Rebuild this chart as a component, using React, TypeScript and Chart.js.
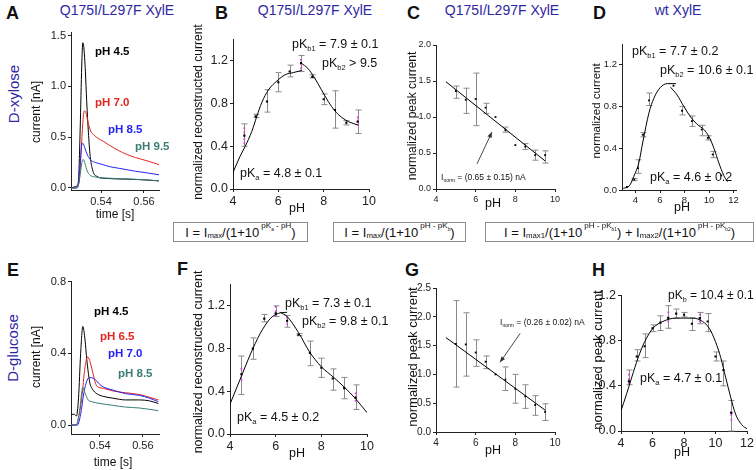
import React, { useEffect, useRef } from 'react';
import { Chart, registerables } from 'chart.js';
Chart.register(...registerables);

const FONT = '"Liberation Sans", Arial, Helvetica, sans-serif';
const RED = '#e3251f';
const BLUE = '#2424f0';
const TEAL = '#3a7d75';
const TITLE = '#2e26a3';
const MAG = '#e03ce0';
const ERR = '#8a8a8a';

// ---------- Panel A (D-xylose traces) ----------
const A_T_45 = [0.526, 0.5275, 0.5288, 0.5295, 0.5303, 0.531, 0.5315, 0.532, 0.5327, 0.5333, 0.5341, 0.5349, 0.5358, 0.5367, 0.538, 0.5395, 0.542, 0.546, 0.55, 0.555, 0.56, 0.567];
const A_V_45 = [0.0, 0.01, 0.02, 0.08, 0.6, 1.2, 1.43, 1.38, 1.15, 0.86, 0.55, 0.32, 0.2, 0.14, 0.115, 0.1, 0.095, 0.09, 0.088, 0.085, 0.08, 0.07];
const A_T_70 = [0.526, 0.528, 0.529, 0.53, 0.531, 0.5318, 0.5323, 0.533, 0.5338, 0.5352, 0.5368, 0.5385, 0.541, 0.544, 0.548, 0.552, 0.556, 0.561, 0.567];
const A_V_70 = [0.0, 0.005, 0.02, 0.1, 0.47, 0.72, 0.76, 0.74, 0.66, 0.56, 0.52, 0.49, 0.46, 0.42, 0.37, 0.33, 0.3, 0.27, 0.23];
const A_T_85 = [0.526, 0.5285, 0.5295, 0.5303, 0.531, 0.5315, 0.5322, 0.533, 0.534, 0.5355, 0.5375, 0.54, 0.544, 0.548, 0.552, 0.556, 0.561, 0.567];
const A_V_85 = [0.0, 0.0, 0.05, 0.25, 0.42, 0.44, 0.41, 0.36, 0.31, 0.27, 0.25, 0.235, 0.21, 0.195, 0.18, 0.165, 0.15, 0.13];
const A_T_95 = [0.526, 0.5285, 0.5295, 0.5305, 0.5313, 0.5318, 0.5325, 0.5335, 0.5349, 0.537, 0.54, 0.545, 0.55, 0.556, 0.561, 0.567];
const A_V_95 = [0.0, 0.0, 0.03, 0.17, 0.27, 0.28, 0.24, 0.17, 0.125, 0.11, 0.1, 0.095, 0.09, 0.085, 0.08, 0.07];
const A_X_TICKS = [0.54, 0.56];
const A_Y_TICKS = [0, 0.5, 1.0, 1.5];

// ---------- Panel B ----------
const B_PH = [4.5, 5.0, 5.5, 6.0, 6.5, 7.0, 7.5, 8.0, 8.5, 9.0, 9.5];
const B_MEAN = [0.5, 0.68, 0.82, 1.0, 1.1, 1.18, 1.05, 0.84, 0.74, 0.62, 0.63];
const B_LO = [0.4, 0.67, 0.72, 0.91, 1.05, 1.1, 1.04, 0.79, 0.57, 0.6, 0.52];
const B_HI = [0.61, 0.7, 0.93, 1.09, 1.16, 1.25, 1.07, 0.89, 0.92, 0.64, 0.74];
const B_MAG_PH = [4.5, 4.5, 4.5, 4.5, 7.0, 7.0, 7.0, 9.5, 9.5, 9.5];
const B_MAG_V = [0.43, 0.47, 0.53, 0.57, 1.13, 1.17, 1.21, 0.6, 0.64, 0.67];
const B_FIT1_PH = [4.0, 4.32, 4.54, 4.83, 5.05, 5.27, 5.57, 5.93, 6.3, 6.66, 7.03];
const B_FIT1_V = [0.155, 0.31, 0.4, 0.54, 0.68, 0.81, 0.93, 1.01, 1.07, 1.09, 1.11];
const B_FIT2_PH = [7.0, 7.3, 7.6, 7.9, 8.2, 8.5, 8.8, 9.1, 9.5];
const B_FIT2_V = [1.18, 1.13, 1.04, 0.93, 0.82, 0.73, 0.67, 0.63, 0.6];

// ---------- Panel C ----------
const C_PH = [5.0, 5.5, 6.0, 6.5, 7.0, 7.5, 8.0, 8.5, 9.0, 9.5];
const C_MEAN = [1.36, 1.24, 1.25, 1.13, 1.0, 0.82, 0.61, 0.59, 0.47, 0.47];
const C_LO = [1.26, 1.05, 0.88, 1.05, 1.0, 0.79, 0.61, 0.55, 0.4, 0.36];
const C_HI = [1.43, 1.4, 1.61, 1.19, 1.0, 0.86, 0.61, 0.63, 0.54, 0.53];
const C_FIT_PH = [4.5, 9.5];
const C_FIT_V = [1.49, 0.39];
const C_ARROW_PH = [6.07, 6.82];
const C_ARROW_V = [0.35, 0.79];

// ---------- Panel D ----------
const D_PH = [3.3, 3.9, 4.2, 4.6, 5.1, 7.1, 7.8, 8.6, 9.4, 9.9, 10.3, 11.0];
const D_MEAN = [0.03, 0.1, 0.21, 0.53, 0.86, 1.0, 0.76, 0.66, 0.58, 0.5, 0.34, 0.14];
const D_LO = [0.03, 0.09, 0.16, 0.51, 0.81, 1.0, 0.72, 0.61, 0.52, 0.48, 0.31, 0.14];
const D_HI = [0.03, 0.11, 0.29, 0.55, 0.93, 1.0, 0.8, 0.71, 0.62, 0.52, 0.37, 0.14];
const D_FIT1_PH = [3.0, 3.5, 3.86, 4.27, 4.6, 5.1, 5.5, 6.0, 6.6, 7.3];
const D_FIT1_V = [0.016, 0.04, 0.13, 0.26, 0.46, 0.74, 0.88, 0.98, 1.02, 1.02];
const D_FIT2_PH = [6.86, 7.4, 7.95, 8.5, 9.03, 9.58, 10.0, 10.4, 10.8, 11.2, 11.5];
const D_FIT2_V = [0.986, 0.91, 0.8, 0.7, 0.63, 0.58, 0.51, 0.4, 0.26, 0.14, 0.08];

// ---------- Panel E (D-glucose traces) ----------
const E_T_45 = [0.5265, 0.528, 0.529, 0.53, 0.531, 0.532, 0.5328, 0.534, 0.5352, 0.5365, 0.5385, 0.5415, 0.546, 0.552, 0.5585, 0.563, 0.5672];
const E_V_45 = [0.06, 0.06, 0.05, 0.15, 0.4, 0.55, 0.5, 0.35, 0.24, 0.2, 0.175, 0.16, 0.15, 0.14, 0.14, 0.135, 0.12];
const E_T_65 = [0.5265, 0.529, 0.53, 0.5315, 0.533, 0.5342, 0.5352, 0.5365, 0.538, 0.5395, 0.5415, 0.546, 0.552, 0.5585, 0.563, 0.5672];
const E_V_65 = [0.0, 0.0, 0.04, 0.15, 0.32, 0.38, 0.36, 0.3, 0.23, 0.21, 0.205, 0.19, 0.18, 0.17, 0.155, 0.14];
const E_T_70 = [0.5265, 0.5295, 0.531, 0.5325, 0.534, 0.5354, 0.537, 0.5385, 0.54, 0.542, 0.546, 0.552, 0.5585, 0.563, 0.5672];
const E_V_70 = [0.0, 0.0, 0.06, 0.18, 0.25, 0.265, 0.26, 0.245, 0.225, 0.21, 0.195, 0.175, 0.165, 0.15, 0.13];
const E_T_85 = [0.5265, 0.529, 0.5305, 0.532, 0.533, 0.5345, 0.5362, 0.54, 0.546, 0.552, 0.5585, 0.5672];
const E_V_85 = [0.0, 0.0, 0.08, 0.21, 0.18, 0.14, 0.13, 0.12, 0.11, 0.1, 0.095, 0.08];
const E_Y_TICKS = [0, 0.4, 0.8];

// ---------- Panel F ----------
const F_PH = [4.5, 5.0, 5.5, 6.0, 6.5, 7.0, 7.5, 8.0, 8.5, 9.0, 9.5];
const F_MEAN = [0.56, 0.8, 1.08, 1.13, 1.06, 0.93, 0.76, 0.62, 0.52, 0.43, 0.34];
const F_LO = [0.37, 0.7, 1.05, 1.1, 1.0, 0.92, 0.64, 0.53, 0.41, 0.33, 0.23];
const F_HI = [0.73, 0.9, 1.12, 1.2, 1.11, 0.94, 0.87, 0.71, 0.61, 0.53, 0.46];
const F_MAG_PH = [4.5, 4.5, 4.5, 6.0, 6.0, 6.0, 6.5, 6.5, 6.5, 9.5, 9.5, 9.5];
const F_MAG_V = [0.51, 0.56, 0.61, 1.11, 1.15, 1.19, 1.03, 1.06, 1.09, 0.31, 0.35, 0.38];
const F_FIT1_PH = [4.0, 4.44, 4.88, 5.32, 5.76, 6.12, 6.5];
const F_FIT1_V = [0.28, 0.51, 0.74, 0.94, 1.08, 1.13, 1.14];
const F_FIT2_PH = [6.2, 6.5, 7.0, 7.48, 8.0, 8.54, 9.0, 9.5, 10.0];
const F_FIT2_V = [1.14, 1.1, 0.95, 0.77, 0.63, 0.53, 0.44, 0.33, 0.2];

// ---------- Panel G ----------
const G_PH = [5.0, 5.5, 6.0, 6.5, 7.0, 7.5, 8.0, 8.5, 9.0, 9.5];
const G_MEAN = [1.53, 1.52, 1.38, 1.22, 1.0, 0.91, 0.75, 0.62, 0.47, 0.35];
const G_LO = [0.78, 0.97, 1.14, 1.1, 1.0, 0.72, 0.5, 0.41, 0.29, 0.2];
const G_HI = [2.28, 2.07, 1.6, 1.32, 1.0, 1.13, 1.0, 0.82, 0.63, 0.49];
const G_FIT_PH = [4.5, 9.5];
const G_FIT_V = [1.64, 0.38];
const G_ARROW_PH = [8.24, 7.23];
const G_ARROW_V = [1.71, 1.21];

// ---------- Panel H ----------
const H_PH = [4.5, 5.0, 5.5, 6.0, 6.5, 7.0, 7.5, 8.0, 8.5, 9.0, 9.5, 10.0, 10.5, 11.0];
const H_MEAN = [0.44, 0.66, 0.75, 0.91, 0.96, 1.0, 1.04, 1.03, 0.95, 1.0, 0.97, 0.66, 0.54, 0.16];
const H_LO = [0.41, 0.62, 0.65, 0.88, 0.89, 0.91, 1.0, 1.01, 0.89, 0.95, 0.88, 0.62, 0.4, 0.0];
const H_HI = [0.54, 0.72, 0.86, 0.94, 1.02, 1.11, 1.08, 1.05, 1.0, 1.05, 1.04, 0.7, 0.62, 0.27];
const H_MAG_PH = [4.5, 4.5, 4.5, 7.0, 7.0, 7.0, 9.0, 9.0, 9.0, 11.0, 11.0, 11.0];
const H_MAG_V = [0.42, 0.46, 0.5, 0.97, 1.01, 1.05, 0.97, 1.0, 1.03, 0.1, 0.14, 0.17];
const H_FIT_PH = [4.0, 4.36, 4.67, 5.09, 5.5, 6.03, 6.66, 7.5, 8.55, 9.18, 9.6, 10.0, 10.33, 10.65, 10.96, 11.27, 11.7, 12.0];
const H_FIT_V = [0.18, 0.33, 0.47, 0.65, 0.79, 0.91, 0.97, 1.0, 1.0, 0.97, 0.91, 0.79, 0.65, 0.47, 0.3, 0.15, 0.05, 0.02];

const PH_TICKS_10 = [4, 6, 8, 10];
const PH_TICKS_12 = [4, 6, 8, 10, 12];
const Y_TICKS_12 = [0, 0.4, 0.8, 1.2];
const Y_TICKS_20 = [0, 0.5, 1.0, 1.5, 2.0];
const Y_TICKS_25 = [0, 0.5, 1.0, 1.5, 2.0, 2.5];

// ---------- helpers ----------
const pts = (xs: number[], ys: number[]) => xs.map((x, i) => ({ x, y: ys[i] }));
const line = (xs: number[], ys: number[], color = '#000', w = 1) => ({
  type: 'line', data: pts(xs, ys), borderColor: color, borderWidth: w, pointRadius: 0,
  fill: false, cubicInterpolationMode: 'monotone', showLine: true,
});
const dots = (xs: number[], ys: number[], color = '#000', r = 1.5) => ({
  type: 'scatter', data: pts(xs, ys), backgroundColor: color, borderColor: color, borderWidth: 0,
  pointStyle: 'rect', pointRadius: r, showLine: false,
});

type Spec = {
  L: number; T: number; R: number; B: number;
  xMin: number; xMax: number; yMin: number; yMax: number;
  xTicks: number[]; yTicks: number[]; xDec: number; yDec: number; fs: number; pr?: number;
  datasets: any[];
  err?: { x: number[]; lo: number[]; hi: number[] };
  arrow?: { x: number[]; y: number[] };
};

const YW = 34, PT = 8, XH = 24;

function ChartPanel({ s }: { s: Spec }) {
  const ref = useRef<HTMLCanvasElement>(null);
  const PR = s.pr ?? 14;
  const L = Math.round(s.L), T = Math.round(s.T);
  const w = Math.round(s.R - L) + YW + PR;
  const h = Math.round(s.B - T) + PT + XH;
  useEffect(() => {
    const errPlugin = {
      id: 'errbars',
      beforeDatasetsDraw(chart: any) {
        if (!s.err) return;
        const ctx = chart.ctx, xs = chart.scales.x, ys = chart.scales.y;
        ctx.save();
        ctx.strokeStyle = ERR; ctx.lineWidth = 1;
        s.err.x.forEach((xv, i) => {
          const px = Math.round(xs.getPixelForValue(xv)) + 0.5;
          const p1 = ys.getPixelForValue(s.err!.lo[i]);
          const p2 = ys.getPixelForValue(s.err!.hi[i]);
          if (Math.abs(p1 - p2) < 1) return;
          ctx.beginPath();
          ctx.moveTo(px, p1); ctx.lineTo(px, p2);
          ctx.moveTo(px - 3, p1); ctx.lineTo(px + 3, p1);
          ctx.moveTo(px - 3, p2); ctx.lineTo(px + 3, p2);
          ctx.stroke();
        });
        ctx.restore();
      },
      afterDatasetsDraw(chart: any) {
        if (!s.arrow) return;
        const ctx = chart.ctx, xs = chart.scales.x, ys = chart.scales.y;
        const x1 = xs.getPixelForValue(s.arrow.x[0]), y1 = ys.getPixelForValue(s.arrow.y[0]);
        const x2 = xs.getPixelForValue(s.arrow.x[1]), y2 = ys.getPixelForValue(s.arrow.y[1]);
        const a = Math.atan2(y2 - y1, x2 - x1);
        ctx.save();
        ctx.strokeStyle = '#333'; ctx.fillStyle = '#333'; ctx.lineWidth = 0.9;
        ctx.beginPath(); ctx.moveTo(x1, y1); ctx.lineTo(x2, y2); ctx.stroke();
        ctx.beginPath();
        ctx.moveTo(x2, y2);
        ctx.lineTo(x2 - 6 * Math.cos(a - 0.4), y2 - 6 * Math.sin(a - 0.4));
        ctx.lineTo(x2 - 6 * Math.cos(a + 0.4), y2 - 6 * Math.sin(a + 0.4));
        ctx.closePath(); ctx.fill();
        ctx.restore();
      },
    };
    const axis = (min: number, max: number, ticks: number[], dec: number, isX: boolean) => ({
      type: 'linear', min, max,
      afterBuildTicks: (sc: any) => { sc.ticks = ticks.map((v) => ({ value: v })); },
      afterFit: (sc: any) => { if (isX) sc.height = XH; else sc.width = YW; },
      grid: { display: true, drawOnChartArea: false, drawTicks: true, tickLength: 3, color: '#222', lineWidth: 1 },
      border: { display: true, color: '#222', width: 1 },
      ticks: {
        autoSkip: false, maxRotation: 0, minRotation: 0, padding: 2, color: '#222',
        font: { family: FONT, size: s.fs },
        callback: (v: any) => Number(v).toFixed(dec),
      },
    });
    const chart = new Chart(ref.current as HTMLCanvasElement, {
      type: 'scatter',
      data: { datasets: s.datasets },
      options: {
        animation: false, responsive: false, maintainAspectRatio: false, events: [],
        layout: { padding: { top: PT, right: PR, left: 0, bottom: 0 } },
        plugins: { legend: { display: false }, tooltip: { enabled: false }, title: { display: false } },
        scales: {
          x: axis(s.xMin, s.xMax, s.xTicks, s.xDec, true),
          y: axis(s.yMin, s.yMax, s.yTicks, s.yDec, false),
        },
      },
      plugins: [errPlugin],
    } as any);
    return () => chart.destroy();
  }, []);
  return (
    <canvas ref={ref} width={w} height={h}
      style={{ position: 'absolute', left: L - YW, top: T - PT, width: w, height: h }} />
  );
}

function Txt(p: { x: number; y: number; size?: number; color?: string; bold?: boolean; align?: 'left' | 'center'; rot?: boolean; children: any }) {
  const tf = p.rot ? 'translate(-50%,-50%) rotate(-90deg)' : p.align === 'center' ? 'translate(-50%,-50%)' : 'translateY(-50%)';
  return (
    <div style={{
      position: 'absolute', left: p.x, top: p.y, transform: tf, fontSize: p.size ?? 12,
      color: p.color ?? '#111', fontWeight: p.bold ? 'bold' : 'normal', whiteSpace: 'nowrap',
      lineHeight: 1, fontFamily: FONT,
    }}>{p.children}</div>
  );
}
const Sub = ({ children }: any) => <span style={{ fontSize: '0.6em', position: 'relative', top: '0.45em' }}>{children}</span>;
const Sup = ({ children }: any) => <span style={{ fontSize: '0.62em', position: 'relative', top: '-0.75em', marginLeft: 2 }}>{children}</span>;

const SPEC_A: Spec = {
  L: 71, R: 159, T: 32, B: 190, xMin: 0.526, xMax: 0.567, yMin: -0.02, yMax: 1.53,
  xTicks: A_X_TICKS, yTicks: A_Y_TICKS, xDec: 2, yDec: 1, fs: 11,
  datasets: [line(A_T_95, A_V_95, TEAL), line(A_T_85, A_V_85, BLUE), line(A_T_70, A_V_70, RED), line(A_T_45, A_V_45, '#000')],
};
const SPEC_B: Spec = {
  L: 233, R: 369, T: 37.5, B: 188.5, xMin: 4, xMax: 10, yMin: 0, yMax: 1.4,
  xTicks: PH_TICKS_10, yTicks: Y_TICKS_12, xDec: 0, yDec: 1, fs: 12.5,
  datasets: [line(B_FIT1_PH, B_FIT1_V), line(B_FIT2_PH, B_FIT2_V), dots(B_PH, B_MEAN), dots(B_MAG_PH, B_MAG_V, MAG, 1.2)],
  err: { x: B_PH, lo: B_LO, hi: B_HI },
};
const SPEC_C: Spec = {
  L: 436, R: 555, T: 45, B: 189, xMin: 4, xMax: 10, yMin: 0, yMax: 2.0,
  xTicks: PH_TICKS_10, yTicks: Y_TICKS_20, xDec: 0, yDec: 1, fs: 9,
  datasets: [line(C_FIT_PH, C_FIT_V), dots(C_PH, C_MEAN, '#000', 1.3)],
  err: { x: C_PH, lo: C_LO, hi: C_HI },
  arrow: { x: C_ARROW_PH, y: C_ARROW_V },
};
const SPEC_D: Spec = {
  L: 621.5, R: 735.8, T: 44, B: 190, xMin: 2.9, xMax: 12.2, yMin: 0, yMax: 1.4,
  xTicks: PH_TICKS_12, yTicks: Y_TICKS_12, xDec: 0, yDec: 1, fs: 9.5, pr: 10,
  datasets: [line(D_FIT1_PH, D_FIT1_V), line(D_FIT2_PH, D_FIT2_V), dots(D_PH, D_MEAN, '#000', 1.3)],
  err: { x: D_PH, lo: D_LO, hi: D_HI },
};
const SPEC_E: Spec = {
  L: 71, R: 159, T: 281, B: 433.5, xMin: 0.5265, xMax: 0.5675, yMin: -0.05, yMax: 0.8,
  xTicks: A_X_TICKS, yTicks: E_Y_TICKS, xDec: 2, yDec: 1, fs: 11,
  datasets: [line(E_T_85, E_V_85, TEAL), line(E_T_70, E_V_70, BLUE), line(E_T_65, E_V_65, RED), line(E_T_45, E_V_45, '#000')],
};
const SPEC_F: Spec = {
  L: 230, R: 366.7, T: 283, B: 433.5, xMin: 4, xMax: 10, yMin: 0, yMax: 1.4,
  xTicks: PH_TICKS_10, yTicks: Y_TICKS_12, xDec: 0, yDec: 1, fs: 12.5,
  datasets: [line(F_FIT1_PH, F_FIT1_V), line(F_FIT2_PH, F_FIT2_V), dots(F_PH, F_MEAN), dots(F_MAG_PH, F_MAG_V, MAG, 1.2)],
  err: { x: F_PH, lo: F_LO, hi: F_HI },
};
const SPEC_G: Spec = {
  L: 436, R: 555, T: 288, B: 431.7, xMin: 4, xMax: 10, yMin: 0, yMax: 2.5,
  xTicks: PH_TICKS_10, yTicks: Y_TICKS_25, xDec: 0, yDec: 1, fs: 10,
  datasets: [line(G_FIT_PH, G_FIT_V), dots(G_PH, G_MEAN, '#000', 1.3)],
  err: { x: G_PH, lo: G_LO, hi: G_HI },
  arrow: { x: G_ARROW_PH, y: G_ARROW_V },
};
const SPEC_H: Spec = {
  L: 621, R: 748, T: 293.5, B: 430.7, xMin: 4, xMax: 12, yMin: 0, yMax: 1.2,
  xTicks: PH_TICKS_12, yTicks: Y_TICKS_12, xDec: 0, yDec: 1, fs: 12.5, pr: 8,
  datasets: [line(H_FIT_PH, H_FIT_V), dots(H_PH, H_MEAN), dots(H_MAG_PH, H_MAG_V, MAG, 1.2)],
  err: { x: H_PH, lo: H_LO, hi: H_HI },
};

const boxStyle = (left: number, width: number): React.CSSProperties => ({
  position: 'absolute', left, top: 222, width, height: 20, border: '1px solid #8c8c8c', boxSizing: 'border-box',
  display: 'flex', alignItems: 'center', justifyContent: 'center', fontFamily: FONT, fontSize: 13,
  color: '#111', whiteSpace: 'nowrap', lineHeight: 1, background: '#fff', paddingTop: 1,
});

export default function App() {
  return (
    <div style={{ position: 'absolute', left: 0, top: 0, width: 756, height: 470, overflow: 'hidden', background: '#fff' }}>
      {[SPEC_A, SPEC_B, SPEC_C, SPEC_D, SPEC_E, SPEC_F, SPEC_G, SPEC_H].map((s, i) => <ChartPanel key={i} s={s} />)}

      {/* panel letters */}
      <Txt x={6} y={13} size={18} bold>A</Txt>
      <Txt x={215} y={13} size={18} bold>B</Txt>
      <Txt x={407} y={13} size={18} bold>C</Txt>
      <Txt x={593} y={13} size={18} bold>D</Txt>
      <Txt x={7} y={270} size={18} bold>E</Txt>
      <Txt x={177} y={269} size={18} bold>F</Txt>
      <Txt x={405} y={270} size={18} bold>G</Txt>
      <Txt x={592} y={270} size={18} bold>H</Txt>

      {/* titles */}
      <Txt x={117} y={10} size={14} color={TITLE} align="center">Q175I/L297F XylE</Txt>
      <Txt x={315} y={10} size={14} color={TITLE} align="center">Q175I/L297F XylE</Txt>
      <Txt x={502} y={10} size={14} color={TITLE} align="center">Q175I/L297F XylE</Txt>
      <Txt x={678} y={10} size={14} color={TITLE} align="center">wt XylE</Txt>

      {/* row labels */}
      <Txt x={13} y={94} size={15} color={TITLE} rot>D-xylose</Txt>
      <Txt x={12} y={348} size={15} color={TITLE} rot>D-glucose</Txt>

      {/* A */}
      <Txt x={36} y={112} size={12} rot>current [nA]</Txt>
      <Txt x={115} y={214} size={12} align="center">time [s]</Txt>
      <Txt x={95} y={52} size={11.5} bold color="#000">pH 4.5</Txt>
      <Txt x={95} y={103} size={11.5} bold color={RED}>pH 7.0</Txt>
      <Txt x={108} y={130} size={11.5} bold color={BLUE}>pH 8.5</Txt>
      <Txt x={135} y={147} size={11.5} bold color={TEAL}>pH 9.5</Txt>

      {/* B */}
      <Txt x={198} y={112} size={12} rot>normalized reconstructed current</Txt>
      <Txt x={297} y={208} size={12.5} align="center">pH</Txt>
      <Txt x={292} y={44} size={12.5}>pK<Sub>b1</Sub> = 7.9 ± 0.1</Txt>
      <Txt x={322} y={63} size={12.5}>pK<Sub>b2</Sub> &gt; 9.5</Txt>
      <Txt x={240} y={173} size={12.5}>pK<Sub>a</Sub> = 4.8 ± 0.1</Txt>

      {/* C */}
      <Txt x={412} y={116} size={12} rot>normalized peak current</Txt>
      <Txt x={493} y={203} size={12.5} align="center">pH</Txt>
      <Txt x={441} y={177} size={8.5}>I<Sub>norm</Sub> = (0.65 ± 0.15) nA</Txt>

      {/* D */}
      <Txt x={597} y={111} size={11.5} rot>normalized current</Txt>
      <Txt x={682} y={207} size={12.5} align="center">pH</Txt>
      <Txt x={632} y={51} size={12.5}>pK<Sub>b1</Sub> = 7.7 ± 0.2</Txt>
      <Txt x={660} y={70} size={12.5}>pK<Sub>b2</Sub> = 10.6 ± 0.1</Txt>
      <Txt x={650} y={177} size={12.5}>pK<Sub>a</Sub> = 4.6 ± 0.2</Txt>

      {/* formula boxes */}
      <div style={boxStyle(173, 135)}>I = I<Sub>max</Sub>/(1+10<Sup>pK<Sub>a</Sub> - pH</Sup>)</div>
      <div style={boxStyle(333, 133)}>I = I<Sub>max</Sub>/(1+10<Sup>pH - pK<Sub>b</Sub></Sup>)</div>
      <div style={boxStyle(485, 269)}>I = I<Sub>max1</Sub>/(1+10<Sup>pH - pK<Sub>b1</Sub></Sup>) + I<Sub>max2</Sub>/(1+10<Sup>pH - pK<Sub>b2</Sub></Sup>)</div>

      {/* E */}
      <Txt x={36} y={357} size={12} rot>current [nA]</Txt>
      <Txt x={113} y={462} size={12} align="center">time [s]</Txt>
      <Txt x={94} y={312} size={11.5} bold color="#000">pH 4.5</Txt>
      <Txt x={100} y={337} size={11.5} bold color={RED}>pH 6.5</Txt>
      <Txt x={108} y={354} size={11.5} bold color={BLUE}>pH 7.0</Txt>
      <Txt x={118} y={374} size={11.5} bold color={TEAL}>pH 8.5</Txt>

      {/* F */}
      <Txt x={198} y={362} size={12.5} rot>normalized reconstructed current</Txt>
      <Txt x={297} y={453} size={12.5} align="center">pH</Txt>
      <Txt x={285} y={303} size={12.5}>pK<Sub>b1</Sub> = 7.3 ± 0.1</Txt>
      <Txt x={302} y={321} size={12.5}>pK<Sub>b2</Sub> = 9.8 ± 0.1</Txt>
      <Txt x={237} y={417} size={12.5}>pK<Sub>a</Sub> = 4.5 ± 0.2</Txt>

      {/* G */}
      <Txt x={412} y={357} size={13} rot>normalized peak current</Txt>
      <Txt x={493} y={450} size={12.5} align="center">pH</Txt>
      <Txt x={500} y={322} size={8.5}>I<Sub>norm</Sub> = (0.26 ± 0.02) nA</Txt>

      {/* H */}
      <Txt x={597} y={360} size={13} rot>normalized peak current</Txt>
      <Txt x={682} y={452} size={12.5} align="center">pH</Txt>
      <Txt x={668} y={295} size={12}>pK<Sub>b</Sub> = 10.4 ± 0.1</Txt>
      <Txt x={640} y={378} size={12.5}>pK<Sub>a</Sub> = 4.7 ± 0.1</Txt>
    </div>
  );
}
